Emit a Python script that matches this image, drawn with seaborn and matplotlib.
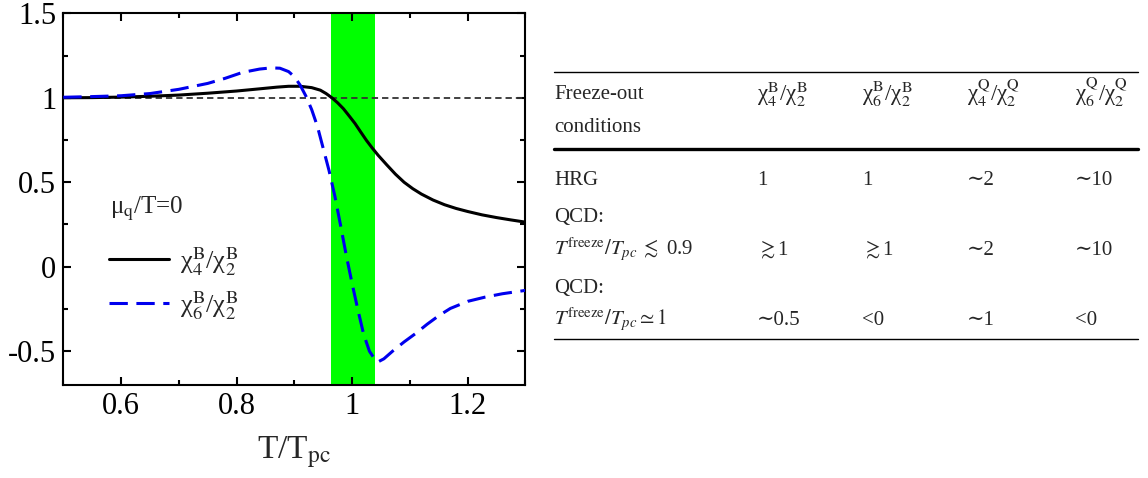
import matplotlib
matplotlib.use("Agg")
import matplotlib.pyplot as plt
import seaborn as sns
import pandas as pd
from matplotlib.ticker import MultipleLocator, FormatStrFormatter

# ---- curve data: T/T_pc and cumulant ratios at mu_q/T = 0 ----
t_chi4 = [0.50, 0.55, 0.60, 0.65, 0.70, 0.75, 0.80, 0.84, 0.87, 0.89, 0.91, 0.93,
          0.945, 0.955, 0.965, 0.975, 0.985, 0.995, 1.005, 1.015, 1.025, 1.035,
          1.045, 1.06, 1.075, 1.09, 1.105, 1.12, 1.14, 1.16, 1.18, 1.20, 1.225,
          1.25, 1.275, 1.30]
chi4_chi2 = [1.000, 1.001, 1.004, 1.009, 1.016, 1.027, 1.040, 1.053, 1.063, 1.068,
             1.068, 1.060, 1.045, 1.025, 1.000, 0.970, 0.935, 0.892, 0.848, 0.797,
             0.747, 0.702, 0.660, 0.603, 0.548, 0.500, 0.462, 0.430, 0.395, 0.367,
             0.345, 0.327, 0.307, 0.291, 0.277, 0.264]

t_chi6 = [0.50, 0.55, 0.60, 0.65, 0.70, 0.75, 0.78, 0.81, 0.84, 0.86, 0.875, 0.89,
          0.90, 0.91, 0.92, 0.93, 0.94, 0.95, 0.96, 0.97, 0.98, 0.99, 1.00, 1.01,
          1.02, 1.03, 1.04, 1.045, 1.055, 1.07, 1.09, 1.11, 1.13, 1.15, 1.17,
          1.20, 1.23, 1.26, 1.30]
chi6_chi2 = [1.003, 1.007, 1.012, 1.025, 1.050, 1.085, 1.115, 1.150, 1.170, 1.177,
             1.175, 1.155, 1.125, 1.075, 1.010, 0.930, 0.830, 0.700, 0.570, 0.420,
             0.245, 0.065, -0.100, -0.255, -0.400, -0.500, -0.552, -0.563, -0.545,
             -0.500, -0.445, -0.395, -0.340, -0.290, -0.247, -0.205, -0.180,
             -0.160, -0.140]

# crossover region and HRG reference value
band_lo, band_hi = 0.964, 1.039
hrg_value = 1.0

# ---- table contents ----
header_left = ["Freeze-out", "conditions"]
header_cols = [r"χ$_4^{\mathrm{B}}$/χ$_2^{\mathrm{B}}$",
               r"χ$_6^{\mathrm{B}}$/χ$_2^{\mathrm{B}}$",
               r"χ$_4^{\mathrm{Q}}$/χ$_2^{\mathrm{Q}}$",
               r"χ$_6^{\mathrm{Q}}$/χ$_2^{\mathrm{Q}}$"]
row_conditions = [["HRG"],
                  ["QCD:", r"$T^{\mathrm{freeze}}/T_{pc}\;\lesssim$ 0.9"],
                  ["QCD:", r"$T^{\mathrm{freeze}}/T_{pc}\simeq 1$"]]
row_values = [["1", "1", "∼2", "∼10"],
              [r"$\gtrsim$1", r"$\gtrsim$1", "∼2", "∼10"],
              ["∼0.5", "<0", "∼1", "<0"]]

sns.set_theme(style="ticks")
plt.rcParams["font.family"] = ["Liberation Serif", "DejaVu Serif"]
plt.rcParams["mathtext.fontset"] = "stix"
plt.rcParams["axes.unicode_minus"] = False

W, H = 1148, 478
fig = plt.figure(figsize=(W / 100, H / 100), dpi=100)
fig.patch.set_facecolor("white")


def fx(px):
    return px / W


def fy(py):
    return 1 - py / H


ax = fig.add_axes([fx(63.3), fy(385), fx(525.4 - 63.3), (385 - 13.3) / H])
ax.set_facecolor("white")

ax.axvspan(band_lo, band_hi, color="#00ff00", lw=0, zorder=0)
ax.axhline(hrg_value, color="#333333", lw=1.3, dashes=(3.5, 2.2), zorder=1)

df4 = pd.DataFrame({"T": t_chi4, "r": chi4_chi2})
df6 = pd.DataFrame({"T": t_chi6, "r": chi6_chi2})
sns.lineplot(data=df4, x="T", y="r", ax=ax, color="black", lw=2.2,
             label=r"χ$_4^{\mathrm{B}}$/χ$_2^{\mathrm{B}}$", zorder=3)
sns.lineplot(data=df6, x="T", y="r", ax=ax, color="#0000ee", lw=2.2,
             label=r"χ$_6^{\mathrm{B}}$/χ$_2^{\mathrm{B}}$", zorder=3)
ax.lines[-1].set_dashes((6, 2.8))

ax.set_xlim(0.5, 1.3)
ax.set_ylim(-0.7, 1.5)
ax.xaxis.set_major_locator(MultipleLocator(0.2))
ax.xaxis.set_minor_locator(MultipleLocator(0.1))
ax.yaxis.set_major_locator(MultipleLocator(0.5))
ax.yaxis.set_minor_locator(MultipleLocator(0.25))
ax.xaxis.set_major_formatter(FormatStrFormatter("%g"))
ax.yaxis.set_major_formatter(FormatStrFormatter("%g"))
ax.tick_params(which="both", direction="in", top=True, right=True,
               width=1.5, colors="black", labelsize=22)
ax.tick_params(which="major", length=6, pad=5)
ax.tick_params(which="minor", length=3.5)
for s in ax.spines.values():
    s.set_linewidth(1.5)
    s.set_color("black")

ax.set_xlabel(r"T/T$_{\mathrm{pc}}$", fontsize=24, labelpad=10)
ax.set_ylabel("")

ax.text(0.10, 0.462, r"μ$_{\mathrm{q}}$/T=0", transform=ax.transAxes,
        fontsize=18, ha="left", va="baseline")
leg = ax.legend(loc="upper left", bbox_to_anchor=(0.075, 0.405), frameon=False,
                fontsize=19, handlelength=2.3, handletextpad=0.4,
                labelspacing=0.42, borderaxespad=0)

# ---- table ----
x_left, x_right = 554, 1138
col_x = [757, 862, 967, 1075]
fig.add_artist(plt.Line2D([fx(x_left), fx(x_right)], [fy(71.7), fy(71.7)],
                          color="black", lw=1.0))
fig.add_artist(plt.Line2D([fx(x_left), fx(x_right)], [fy(149), fy(149)],
                          color="black", lw=2.4))
fig.add_artist(plt.Line2D([fx(x_left), fx(x_right)], [fy(339), fy(339)],
                          color="black", lw=1.0))

tsize = 15
for line, yb in zip(header_left, [99, 132]):
    fig.text(fx(x_left), fy(yb), line, fontsize=tsize, va="baseline")
for cx, lab in zip(col_x, header_cols):
    fig.text(fx(cx), fy(101), lab, fontsize=16.5, va="baseline")

row_base = [[185], [222, 255], [293, 325]]
for conds, ys, vals in zip(row_conditions, row_base, row_values):
    for line, yb in zip(conds, ys):
        fig.text(fx(x_left), fy(yb), line, fontsize=tsize, va="baseline")
    for cx, v in zip(col_x, vals):
        fig.text(fx(cx), fy(ys[-1]), v, fontsize=tsize, va="baseline")

fig.savefig("out.png", dpi=100, facecolor="white")
